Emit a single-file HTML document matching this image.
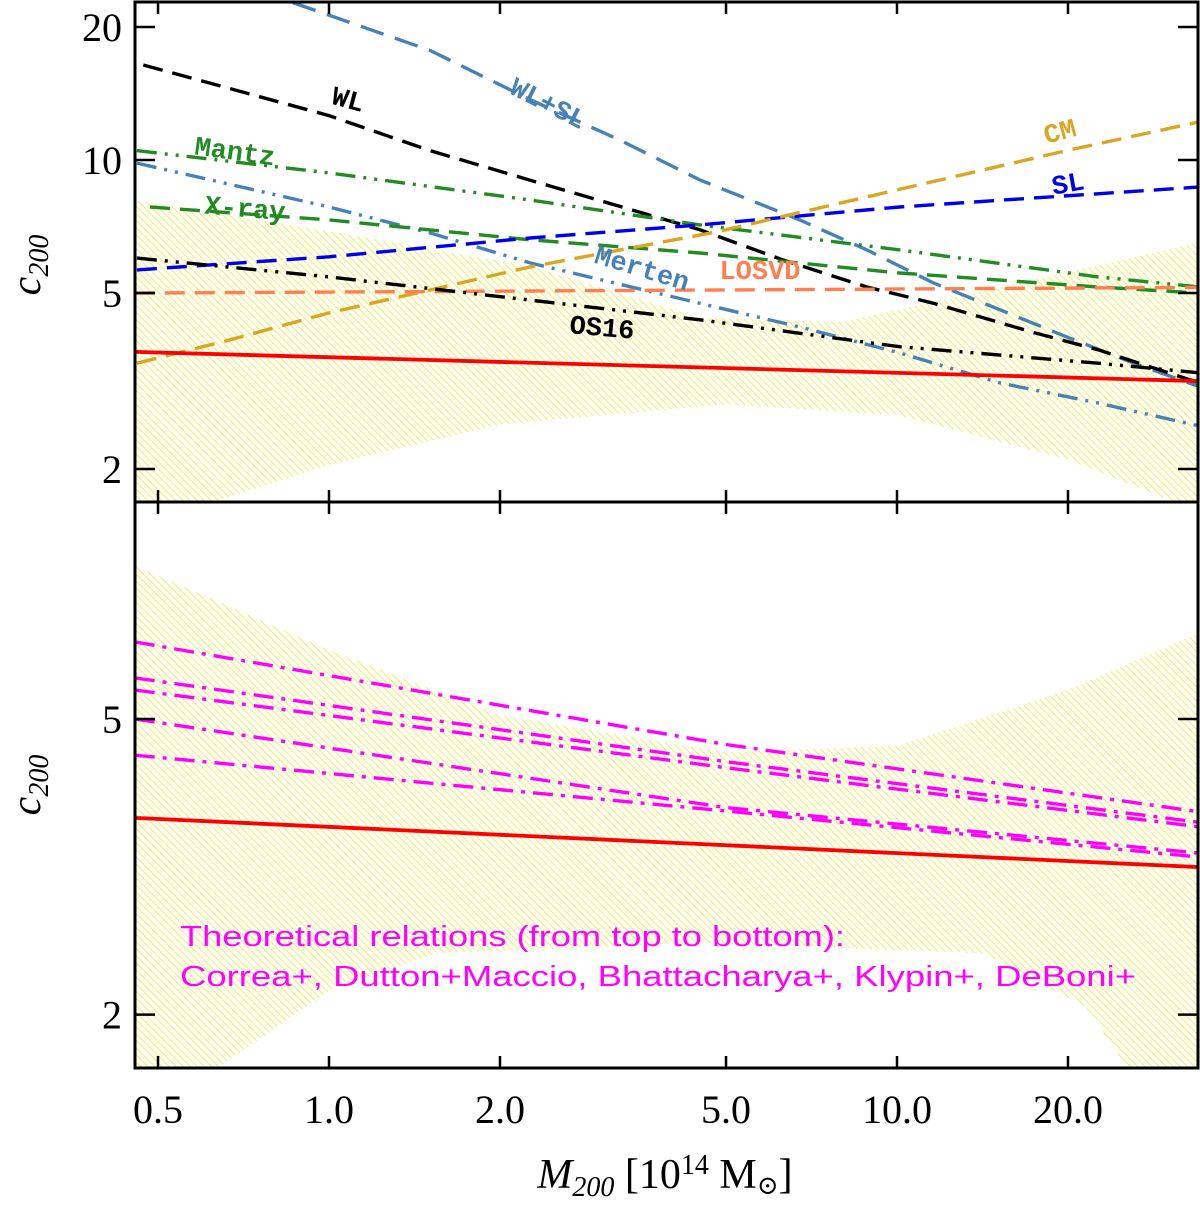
<!DOCTYPE html>
<html><head><meta charset="utf-8"><style>
html,body{margin:0;padding:0;background:#fff;}
svg{display:block;}
</style></head><body>
<svg id="chart" width="1200" height="1205" xmlns="http://www.w3.org/2000/svg">
<defs>
<pattern id="hatch" patternUnits="userSpaceOnUse" width="5" height="5" patternTransform="rotate(-45)">
<line x1="0" y1="0" x2="0" y2="5" stroke="#eeea3c" stroke-width="1.7"/>
</pattern>
<clipPath id="clipTop"><rect x="135" y="2" width="1063" height="500"/></clipPath>
<clipPath id="clipBot"><rect x="135" y="502" width="1063" height="566"/></clipPath>
</defs>
<g id="topBand" clip-path="url(#clipTop)"></g>
<g id="botBand" clip-path="url(#clipBot)"></g>
<g id="topLines" clip-path="url(#clipTop)"></g>
<g id="botLines" clip-path="url(#clipBot)"></g>
<g id="axes"></g>
<g id="labels" font-family="Liberation Mono, monospace" font-size="27" font-weight="bold"></g>
</svg>
<script>
// ---- data ----
const xTicks = [0.5, 1, 2, 5, 10, 20];
const xTickLabels = ["0.5", "1.0", "2.0", "5.0", "10.0", "20.0"];
const topYTicks = [2, 5, 10, 20];
const topYTickLabels = ["2", "5", "10", "20"];
const botYTicks = [2, 5];
const botYTickLabels = ["2", "5"];

const topBandUpperM = [0.455, 1, 2.26, 4.5, 8, 17.3, 34];
const topBandUpperC = [8.1, 6.9, 5.75, 4.4, 4.3, 5.35, 6.5];
const topBandLowerM = [0.455, 0.643, 1, 2, 5, 10, 20, 34];
const topBandLowerC = [1.3, 1.70, 2.04, 2.52, 2.8, 2.65, 2.1, 1.6];

const botBandUpperM = [0.455, 1, 2, 5, 10, 20, 34];
const botBandUpperC = [8.05, 6.19, 5.06, 4.51, 4.6, 5.47, 6.53];
const botBandLowerM = [0.455, 0.64, 1.025, 1.55, 4.5, 14.2, 21.5, 25.4, 34];
const botBandLowerC = [1.3, 1.70, 2.18, 2.42, 2.5, 2.42, 2.05, 1.70, 1.3];

const redM = [0.455, 34];
const redC = [3.68, 3.16];

const wlM = [0.471, 1.0, 1.506, 2.26, 4.5, 6.3, 8.85, 11.6, 17.3, 22.6, 34.1];
const wlC = [16.4, 12.6, 10.5, 9.0, 6.95, 5.94, 5.16, 4.74, 4.08, 3.72, 3.13];
const wlslM = [0.864, 1.506, 2.26, 3.25, 4.5, 6.74, 8.85, 11.6, 15.2, 19.9, 26.1, 34.1];
const wlslC = [22.7, 17.7, 13.7, 11.1, 9.01, 7.32, 6.26, 5.27, 4.58, 3.98, 3.47, 3.07];
const mertenM = [0.459, 1.0, 1.506, 2.26, 4.5, 6.74, 10.1, 15.2, 22.6, 34.1];
const mertenC = [9.84, 7.83, 6.84, 5.85, 4.74, 4.19, 3.66, 3.13, 2.82, 2.50];
const mantzM = [0.459, 1.0, 2.26, 4.5, 10.1, 22.6, 34.1];
const mantzC = [10.5, 9.35, 8.12, 7.13, 6.26, 5.44, 5.16];
const xrayM = [0.484, 1.0, 2.26, 4.5, 10.1, 22.6, 34.1];
const xrayC = [7.83, 7.32, 6.60, 6.16, 5.55, 5.16, 5.0];
const slM = [0.459, 1.0, 2.26, 4.5, 10.1, 17.3, 34.1];
const slC = [5.64, 6.04, 6.66, 7.13, 7.83, 8.20, 8.69];
const cmM = [0.459, 0.67, 1.0, 1.506, 2.26, 4.82, 8.85, 19.9, 34.1];
const cmC = [3.47, 3.92, 4.51, 5.08, 5.73, 6.88, 8.25, 10.5, 12.2];
const losvdM = [0.455, 34.1];
const losvdC = [5.0, 5.15];
const os16M = [0.459, 1.0, 2.26, 4.5, 10.1, 22.6, 34.1];
const os16C = [6.0, 5.44, 4.82, 4.35, 3.78, 3.47, 3.30];

const theoryM = [0.455, 5, 34];
const correaC = [6.35, 4.62, 3.75];
const duttonC = [5.68, 4.38, 3.63];
const bhattC = [5.47, 4.30, 3.58];
const klypinC = [5.0, 3.8, 3.3];
const deboniC = [4.47, 3.76, 3.26];

// ---- scales ----
const X0 = 329, XD = 568;
function xs(m){ return X0 + XD * Math.log10(m); }
function yTop(c){ return 160 - 442 * Math.log10(c / 10); }
function yBot(c){ return 719 - 743 * Math.log10(c / 5); }

const NS = "http://www.w3.org/2000/svg";
function mk(tag, attrs, parent){
  const e = document.createElementNS(NS, tag);
  for (const k in attrs) e.setAttribute(k, attrs[k]);
  parent.appendChild(e);
  return e;
}
function pts(ms, cs, yf){ return ms.map((m,i)=>xs(m).toFixed(1)+","+yf(cs[i]).toFixed(1)); }

function band(g, um, uc, lm, lc, yf, name){
  const p = pts(um, uc, yf).concat(pts(lm, lc, yf).reverse());
  const e = mk("polygon", {points: p.join(" "), fill: "url(#hatch)", stroke: "none"}, g);
  
  
}
band(document.getElementById("topBand"), topBandUpperM, topBandUpperC, topBandLowerM, topBandLowerC, yTop, "scatter-band-top");
band(document.getElementById("botBand"), botBandUpperM, botBandUpperC, botBandLowerM, botBandLowerC, yBot, "scatter-band-bottom");

const DASH = "20 10", DDD = "20 8 3 8 3 8", DD = "20 8 4 8";
function line(g, ms, cs, yf, color, dash, name, w){
  const e = mk("polyline", {points: pts(ms, cs, yf).join(" "), fill: "none", stroke: color, "stroke-width": w||3.4, "stroke-dasharray": dash||"none"}, g);
  
  
}
const tl = document.getElementById("topLines");
line(tl, wlslM, wlslC, yTop, "#4682b4", "24 12", "wl-sl-line");
line(tl, wlM, wlC, yTop, "#000", DASH, "wl-line");
line(tl, mantzM, mantzC, yTop, "#228b22", DDD, "mantz-line");
line(tl, mertenM, mertenC, yTop, "#4682b4", DDD, "merten-line");
line(tl, xrayM, xrayC, yTop, "#228b22", DASH, "xray-line");
line(tl, slM, slC, yTop, "#0000ee", DASH, "sl-line");
line(tl, cmM, cmC, yTop, "#daa520", DASH, "cm-line");
line(tl, losvdM, losvdC, yTop, "#ff7f50", DASH, "losvd-line");
line(tl, os16M, os16C, yTop, "#000", DDD, "os16-line");
line(tl, redM, redC, yTop, "#ff0000", "none", "best-fit-line-top", 3.8);

const bl = document.getElementById("botLines");
line(bl, theoryM, correaC, yBot, "#ff00ff", DD, "correa-line");
line(bl, theoryM, duttonC, yBot, "#ff00ff", DD, "dutton-maccio-line");
line(bl, theoryM, bhattC, yBot, "#ff00ff", DD, "bhattacharya-line");
line(bl, theoryM, klypinC, yBot, "#ff00ff", DD, "klypin-line");
line(bl, theoryM, deboniC, yBot, "#ff00ff", DD, "deboni-line");
line(bl, redM, redC, yBot, "#ff0000", "none", "best-fit-line-bottom", 3.8);

// ---- axes ----
const ax = document.getElementById("axes");
const L=135, R=1198, T=2, MID=502, B=1068;
let f = mk("rect", {x:L, y:T, width:R-L, height:B-T, fill:"none", stroke:"#000", "stroke-width":3}, ax);


f = mk("line", {x1:L, y1:MID, x2:R, y2:MID, stroke:"#000", "stroke-width":3}, ax);


xTicks.forEach((m,i)=>{
  const x = xs(m);
  mk("line", {x1:x, y1:T, x2:x, y2:T+12, stroke:"#000", "stroke-width":2.5}, ax);
  mk("line", {x1:x, y1:MID-12, x2:x, y2:MID+12, stroke:"#000", "stroke-width":2.5}, ax);
  mk("line", {x1:x, y1:B, x2:x, y2:B-12, stroke:"#000", "stroke-width":2.5}, ax);
  const t = mk("text", {x:x, y:1123, "text-anchor":"middle", "font-family":"Liberation Serif, serif", "font-size":40}, ax);
  t.textContent = xTickLabels[i];
  
  
});
topYTicks.forEach((c,i)=>{
  const y = yTop(c);
  mk("line", {x1:L, y1:y, x2:L+20, y2:y, stroke:"#000", "stroke-width":2.5}, ax);
  mk("line", {x1:R, y1:y, x2:R-20, y2:y, stroke:"#000", "stroke-width":2.5}, ax);
  const t = mk("text", {x:122, y:y+14, "text-anchor":"end", "font-family":"Liberation Serif, serif", "font-size":40}, ax);
  t.textContent = topYTickLabels[i];
  
  
});
botYTicks.forEach((c,i)=>{
  const y = yBot(c);
  mk("line", {x1:L, y1:y, x2:L+20, y2:y, stroke:"#000", "stroke-width":2.5}, ax);
  mk("line", {x1:R, y1:y, x2:R-20, y2:y, stroke:"#000", "stroke-width":2.5}, ax);
  const t = mk("text", {x:122, y:y+14, "text-anchor":"end", "font-family":"Liberation Serif, serif", "font-size":40}, ax);
  t.textContent = botYTickLabels[i];
  
  
});
</script>
<script>
(function(){
  const NS="http://www.w3.org/2000/svg";
  const g = document.getElementById("labels");
  const labs = [
    ["WL", 348, 108, 15, "#000", "wl-label"],
    ["WL+SL", 548, 112, 27, "#4682b4", "wl-sl-label"],
    ["Mantz", 235, 160, 8, "#228b22", "mantz-label"],
    ["X-ray", 245, 217, 5, "#228b22", "xray-label"],
    ["Merten", 642, 277, 17, "#4682b4", "merten-label"],
    ["LOSVD", 760, 279, 0, "#ff7f50", "losvd-label"],
    ["OS16", 602, 336, 5, "#000", "os16-label"],
    ["CM", 1060, 140, -15, "#daa520", "cm-label"],
    ["SL", 1068, 192, -10, "#0000ee", "sl-label"]
  ];
  labs.forEach(l=>{
    const t = document.createElementNS(NS,"text");
    t.setAttribute("x", l[1]); t.setAttribute("y", l[2]);
    t.setAttribute("text-anchor","middle"); t.setAttribute("fill", l[4]);
    t.setAttribute("transform","rotate("+l[3]+" "+l[1]+" "+(l[2]-8)+")");
    t.textContent = l[0];
    
    
    g.appendChild(t);
  });
  const svg = document.getElementById("chart");
  function txt(s, attrs, name){
    const t = document.createElementNS(NS,"text");
    for (const k in attrs) t.setAttribute(k, attrs[k]);
    t.textContent = s;
    
    
    svg.appendChild(t);
    return t;
  }
  txt("Theoretical relations (from top to bottom):", {x:180, y:946, fill:"#ff00ff", "font-family":"Liberation Sans, sans-serif", "font-size":29, textLength:665, lengthAdjust:"spacingAndGlyphs"}, "theory-note-line1");
  txt("Correa+, Dutton+Maccio, Bhattacharya+, Klypin+, DeBoni+", {x:180, y:986, fill:"#ff00ff", "font-family":"Liberation Sans, sans-serif", "font-size":29, textLength:956, lengthAdjust:"spacingAndGlyphs"}, "theory-note-line2");
  [265, 785].forEach((yc,i)=>{
    const t = document.createElementNS(NS,"text");
    t.setAttribute("transform","translate(40,"+yc+") rotate(-90)");
    t.setAttribute("text-anchor","middle");
    t.setAttribute("font-family","Liberation Serif, serif");
    t.setAttribute("font-style","italic");
    t.setAttribute("font-size","42");
    t.innerHTML = 'c<tspan font-size="28" dy="8">200</tspan>';
    
    
    svg.appendChild(t);
  });
  const xt = document.createElementNS(NS,"text");
  xt.setAttribute("x", 665); xt.setAttribute("y", 1188);
  xt.setAttribute("text-anchor","middle");
  xt.setAttribute("font-family","Liberation Serif, DejaVu Serif, serif");
  xt.setAttribute("font-size","42");
  xt.innerHTML = '<tspan font-style="italic">M</tspan><tspan font-style="italic" font-size="28" dy="8">200</tspan><tspan dy="-8"> [10</tspan><tspan font-size="28" dy="-14">14</tspan><tspan dy="14"> M</tspan><tspan font-size="26" dy="6">⊙</tspan><tspan dy="-6">]</tspan>';
  
  
  svg.appendChild(xt);
})();
</script>
</body></html>
